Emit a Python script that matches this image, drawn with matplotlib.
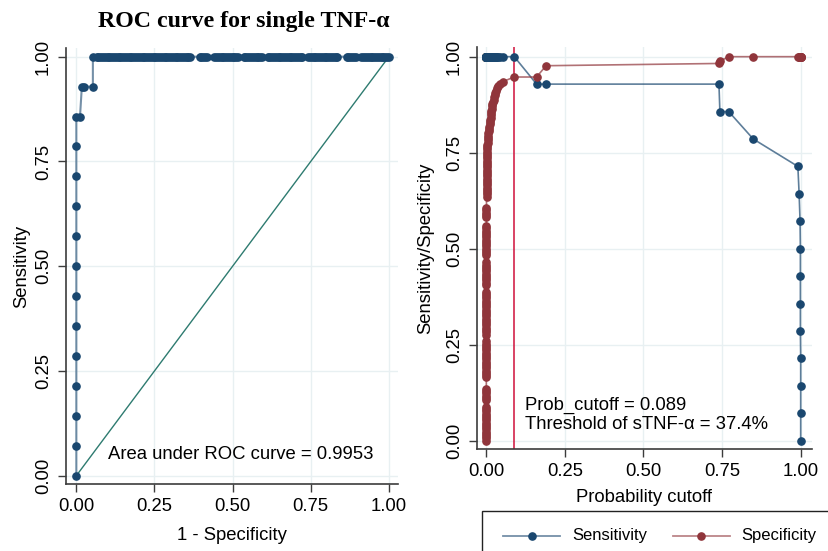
import matplotlib
matplotlib.use("Agg")
import matplotlib.pyplot as plt
from matplotlib.lines import Line2D
from matplotlib.patches import Rectangle

plt.rcParams['font.family'] = ['Liberation Sans', 'DejaVu Sans']

# ---------------- data ----------------
N_NEG = 170   # number of negatives
N_POS = 14    # number of positives

# probability cutoff for each point (ascending)
cutoff = [
    0.0000, 0.0000, 0.0000, 0.0000, 0.0000, 0.0000, 0.0000, 0.0000,
    0.0000, 0.0000, 0.0000, 0.0000, 0.0000, 0.0000, 0.0000, 0.0000,
    0.0001, 0.0001, 0.0001, 0.0001, 0.0001, 0.0001,
    0.0002, 0.0002, 0.0002, 0.0002, 0.0002, 0.0002, 0.0002, 0.0002, 0.0002,
    0.0002, 0.0002, 0.0002, 0.0002, 0.0002, 0.0002, 0.0002, 0.0002,
    0.0003, 0.0003, 0.0003, 0.0003, 0.0003, 0.0003, 0.0003, 0.0003, 0.0003, 0.0003,
    0.0003, 0.0003, 0.0003, 0.0003, 0.0003, 0.0003, 0.0003, 0.0003, 0.0003, 0.0003,
    0.0004, 0.0004, 0.0004, 0.0004, 0.0004, 0.0004, 0.0004, 0.0004, 0.0004, 0.0004, 0.0004,
    0.0005, 0.0005, 0.0005, 0.0005, 0.0005, 0.0005, 0.0005, 0.0005, 0.0005, 0.0005,
    0.0005, 0.0005, 0.0005, 0.0005,
    0.0006, 0.0006, 0.0006, 0.0006, 0.0006,
    0.001, 0.001, 0.001, 0.001, 0.001, 0.001, 0.001, 0.001, 0.001,
    0.001, 0.001, 0.001, 0.001, 0.001, 0.001, 0.001, 0.001, 0.001,
    0.002, 0.002, 0.002, 0.002,
    0.003, 0.003, 0.004, 0.004,
    0.005, 0.006, 0.007, 0.008, 0.009, 0.010, 0.011, 0.012, 0.013, 0.014,
    0.015, 0.015, 0.016, 0.017, 0.018, 0.019, 0.021, 0.023, 0.025, 0.027,
    0.029, 0.031, 0.034, 0.037,
    0.045, 0.053,
    0.089, 0.160, 0.190, 0.740, 0.743, 0.771, 0.849, 0.991, 0.995, 0.998,
    0.999, 0.999, 0.999, 0.999, 1.000, 1.000, 1.000, 1.000,
]

# true negatives (negatives below the cutoff) -> specificity
tn_count = [
    0, 1, 2, 3, 4, 5, 6, 7, 8, 9, 10, 11, 12, 13, 14, 15,
    18, 19, 20, 21, 22, 23,
    28, 29, 30, 31, 32, 33, 34, 35, 36, 37, 38, 39, 40, 41, 42, 43, 44,
    47, 48, 49, 50, 51, 52, 53, 54, 55, 56, 57, 58, 59, 60, 61, 62, 63, 64, 65, 66,
    69, 70, 71, 72, 73, 74, 75, 76, 77, 78, 79,
    82, 83, 84, 85, 86, 87, 88, 89, 90, 91, 92, 93, 94, 95,
    99, 100, 101, 102, 103,
    108, 109, 110, 111, 112, 113, 114, 115, 116, 117, 118, 119, 120, 121, 122, 123, 124, 125,
    126, 127, 128, 129,
    130, 131, 132, 133,
    134, 135, 136, 137, 138, 139, 140, 141, 142, 143,
    144, 145, 146, 147, 148, 149, 150, 151, 152, 153,
    154, 155, 156, 157,
    158, 159,
    161, 161, 166, 167, 168, 170, 170, 170, 170, 170,
    170, 170, 170, 170, 170, 170, 170, 170,
]

# true positives (positives at or above the cutoff) -> sensitivity
tp_count = [
    14, 14, 14, 14, 14, 14, 14, 14, 14, 14, 14, 14, 14, 14, 14, 14,
    14, 14, 14, 14, 14, 14,
    14, 14, 14, 14, 14, 14, 14, 14, 14, 14, 14, 14, 14, 14, 14, 14, 14,
    14, 14, 14, 14, 14, 14, 14, 14, 14, 14, 14, 14, 14, 14, 14, 14, 14, 14, 14, 14,
    14, 14, 14, 14, 14, 14, 14, 14, 14, 14, 14,
    14, 14, 14, 14, 14, 14, 14, 14, 14, 14, 14, 14, 14, 14,
    14, 14, 14, 14, 14,
    14, 14, 14, 14, 14, 14, 14, 14, 14, 14, 14, 14, 14, 14, 14, 14, 14, 14,
    14, 14, 14, 14,
    14, 14, 14, 14,
    14, 14, 14, 14, 14, 14, 14, 14, 14, 14,
    14, 14, 14, 14, 14, 14, 14, 14, 14, 14,
    14, 14, 14, 14,
    14, 14,
    14, 13, 13, 13, 12, 12, 11, 10, 9, 8,
    7, 6, 5, 4, 3, 2, 1, 0,
]

ticks = [0.0, 0.25, 0.5, 0.75, 1.0]
tick_labels = ["0.00", "0.25", "0.50", "0.75", "1.00"]

auc_text = "Area under ROC curve = 0.9953"
best_cut = 0.089
cut_text = "Prob_cutoff = 0.089\nThreshold of sTNF-\u03b1 = 37.4%"
title = "ROC curve for single TNF-\u03b1"

sens = [t / N_POS for t in tp_count]
spec = [t / N_NEG for t in tn_count]
one_minus_spec = [1 - s for s in spec]

# ---------------- style ----------------
BLUE = "#1a476f"
RED = "#90353b"
TEAL = "#2e7b70"
VLINE = "#d0103a"
GRID = "#e8f0f2"
SPINE = "#3c3c3c"
FS = 13.3
MS = 5.2

W, H = 829, 551
fig = plt.figure(figsize=(W / 100, H / 100), dpi=100)


def add_axes_px(x0, y0, x1, y1):
    return fig.add_axes([x0 / W, 1 - y1 / H, (x1 - x0) / W, (y1 - y0) / H])


def style(ax, xlim, ylim):
    ax.set_xlim(*xlim)
    ax.set_ylim(*ylim)
    for s in ("top", "right"):
        ax.spines[s].set_visible(False)
    for s in ("left", "bottom"):
        ax.spines[s].set_color(SPINE)
        ax.spines[s].set_linewidth(1.2)
    ax.set_xticks(ticks)
    ax.set_xticklabels(tick_labels, fontsize=FS)
    ax.set_yticks(ticks)
    ax.set_yticklabels(tick_labels, fontsize=FS, rotation=90, va="center")
    ax.tick_params(axis="both", length=6, width=1.0, color=SPINE, pad=4)
    ax.grid(True, color=GRID, linewidth=1.0)
    ax.set_axisbelow(True)


# ---------------- left: ROC ----------------
ax1 = add_axes_px(65.7, 48.3, 398.3, 484.3)
style(ax1, (-0.034, 1.030), (-0.0205, 1.020))
ax1.plot([0, 1], [0, 1], color=TEAL, linewidth=1.0, zorder=2)
ax1.plot(one_minus_spec, sens, color=BLUE, linewidth=1.5, alpha=0.6, zorder=3)
ax1.plot(one_minus_spec, sens, linestyle="none", marker="o", markersize=MS,
         color=BLUE, zorder=4)
ax1.text(0.102, 0.05, auc_text, fontsize=FS, ha="left", va="center",
         transform=ax1.transData)
ax1.set_xlabel("1 - Specificity", fontsize=FS, labelpad=8.5)
ax1.set_ylabel("Sensitivity", fontsize=FS, labelpad=3)
fig.text(244 / W, 1 - 27 / H, title, fontsize=17.2, fontweight="bold",
         family=["Liberation Serif", "DejaVu Serif"], ha="center", va="baseline")

# ---------------- right: sensitivity/specificity vs cutoff ----------------
ax2 = add_axes_px(476.7, 46.7, 811.7, 449.3)
style(ax2, (-0.0305, 1.035), (-0.0224, 1.026))
ax2.axvline(best_cut, color=VLINE, linewidth=1.1, zorder=2)
ax2.plot(cutoff, sens, color=BLUE, linewidth=1.2, alpha=0.7, zorder=3)
ax2.plot(cutoff, sens, linestyle="none", marker="o", markersize=MS, color=BLUE, zorder=4)
ax2.plot(cutoff, spec, color=RED, linewidth=1.2, alpha=0.7, zorder=3)
ax2.plot(cutoff, spec, linestyle="none", marker="o", markersize=MS, color=RED, zorder=4)
ax2.text(0.123, 0.068, cut_text, fontsize=FS, ha="left", va="center",
         linespacing=1.15, transform=ax2.transData)
ax2.set_xlabel("Probability cutoff", fontsize=FS, labelpad=6)
ax2.set_ylabel("Sensitivity/Specificity", fontsize=FS, labelpad=8)

# ---------------- legend (box runs off the figure edge) ----------------
fig.patches.append(Rectangle((481.7 / W, 1 - 565 / H), (840 - 481.7) / W, (565 - 511) / H,
                             transform=fig.transFigure, fill=False,
                             edgecolor="#222222", linewidth=1.0, clip_on=False))
ly = 1 - 535.7 / H
for (x0, x1, xm, xt, col, lab) in [(503, 560, 531.7, 572.7, BLUE, "Sensitivity"),
                                    (673, 730, 701.5, 741.7, RED, "Specificity")]:
    fig.add_artist(Line2D([x0 / W, x1 / W], [ly, ly], color=col, alpha=0.6,
                          linewidth=1.3, transform=fig.transFigure))
    fig.add_artist(Line2D([xm / W], [ly], marker="o", markersize=MS, color=col,
                          linestyle="none", transform=fig.transFigure))
    fig.text(xt / W, ly, lab, fontsize=12, ha="left", va="center")

fig.savefig("out.png", dpi=100)
